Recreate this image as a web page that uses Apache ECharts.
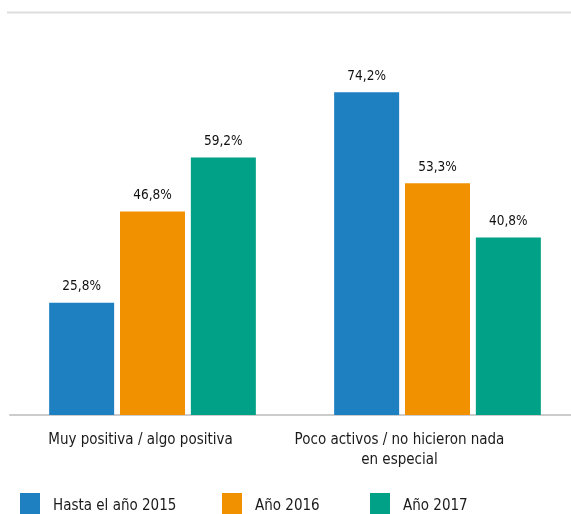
<!DOCTYPE html>
<html>
<head>
<meta charset="utf-8">
<script src="https://cdn.jsdelivr.net/npm/echarts@6/dist/echarts.min.js"></script>
<style>
html,body{margin:0;padding:0;background:#fff;}
#chart{width:571px;height:514px;}
</style>
</head>
<body>
<div id="chart"></div>
<script>
const categories = ['Muy positiva / algo positiva', 'Poco activos / no hicieron nada\nen especial'];
const seriesNames = ['Hasta el año 2015', 'Año 2016', 'Año 2017'];
const values2015 = [25.8, 74.2];
const values2016 = [46.8, 53.3];
const values2017 = [59.2, 40.8];

const colors = ['#1f80c1', '#f29100', '#00a186'];
const FONT = '"Liberation Sans Narrow", "DejaVu Sans Condensed", Roboto, sans-serif';

const chart = echarts.init(document.getElementById('chart'));
const allValues = [values2015, values2016, values2017];

const labelShift = [24, 76];

const option = {
  animation: false,
  textStyle: { fontFamily: FONT },
  grid: { left: 10, right: -9, top: 67, bottom: 99, outerBoundsMode: 'none', containLabel: false },
  xAxis: {
    type: 'category',
    data: categories.map((c, i) => ({
      value: c,
      textStyle: { padding: [0, labelShift[i], 0, 0] }
    })),
    axisLine: { lineStyle: { color: '#cccccc', width: 2 } },
    axisTick: { show: false },
    axisLabel: {
      color: '#1a1a1a',
      fontSize: 15,
      fontFamily: FONT,
      margin: 15,
      lineHeight: 20
    }
  },
  yAxis: {
    type: 'value',
    min: 0,
    max: 80,
    show: false
  },
  legend: [0, 1, 2].map(i => ({
    data: [seriesNames[i]],
    left: [20, 222, 370][i],
    top: 493,
    padding: 0,
    itemWidth: 20,
    itemHeight: 21,
    icon: 'rect',
    formatter: '{t|{name}}',
    textStyle: {
      color: '#1a1a1a', fontSize: 15, fontFamily: FONT,
      rich: { t: { color: '#1a1a1a', fontSize: 15, fontFamily: FONT, padding: [6, 0, 0, 8] } }
    }
  })),
  series: allValues.map((vals, i) => ({
    name: seriesNames[i],
    type: 'bar',
    data: vals,
    barWidth: 65,
    barGap: '9%',
    itemStyle: { color: colors[i] },
    label: {
      show: true,
      position: 'top',
      distance: 9,
      color: '#111111',
      fontSize: 13.5,
      fontFamily: FONT,
      formatter: p => p.value.toFixed(1).replace('.', ',') + '%'
    }
  })),
  graphic: [{
    type: 'line',
    shape: { x1: 7, y1: 12.5, x2: 571, y2: 12.5 },
    style: { stroke: '#dddddd', lineWidth: 2 }
  }]
};
chart.setOption(option);
</script>
</body>
</html>
